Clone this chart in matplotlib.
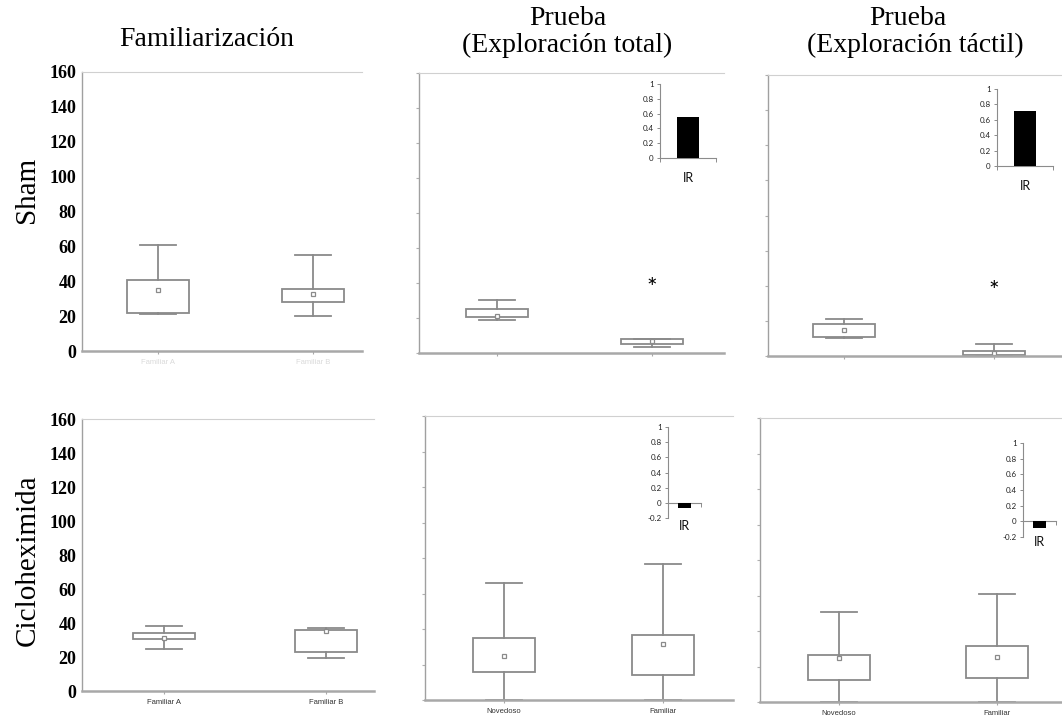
import matplotlib
matplotlib.use("Agg")
import matplotlib.pyplot as plt

W, H = 1062, 717
fig = plt.figure(figsize=(W / 100, H / 100), dpi=100)

# ---------------- data ----------------
yticks = [0, 20, 40, 60, 80, 100, 120, 140, 160]
cats_fam = ["Familiar A", "Familiar B"]
cats_test = ["Novedoso", "Familiar"]

# each panel: whisker low, q1, q3, whisker high, mean (for the two categories)
sham_fam_lo = [21.2, 20.0]
sham_fam_q1 = [22.0, 28.0]
sham_fam_q3 = [40.7, 35.6]
sham_fam_hi = [60.8, 55.0]
sham_fam_mean = [35.0, 32.7]

sham_tot_lo = [18.7, 3.4]
sham_tot_q1 = [20.6, 5.3]
sham_tot_q3 = [25.1, 8.0]
sham_tot_hi = [30.1, 8.0]
sham_tot_mean = [21.0, 7.0]

sham_tac_lo = [10.5, 0.0]
sham_tac_q1 = [10.8, 0.4]
sham_tac_q3 = [18.0, 2.9]
sham_tac_hi = [20.9, 6.6]
sham_tac_mean = [15.0, 1.9]

cic_fam_lo = [24.6, 19.2]
cic_fam_q1 = [30.8, 22.7]
cic_fam_q3 = [34.3, 36.1]
cic_fam_hi = [38.2, 37.2]
cic_fam_mean = [31.4, 35.3]

cic_tot_lo = [0.0, 0.0]
cic_tot_q1 = [16.0, 14.2]
cic_tot_q3 = [34.9, 36.8]
cic_tot_hi = [65.7, 76.4]
cic_tot_mean = [24.9, 31.7]

cic_tac_lo = [0.0, 0.0]
cic_tac_q1 = [12.6, 13.7]
cic_tac_q3 = [26.6, 31.5]
cic_tac_hi = [50.7, 61.0]
cic_tac_mean = [25.0, 25.3]

ir_label = "IR"
ir_sham_tot = 0.56
ir_sham_tac = 0.72
ir_cic_tot = -0.07
ir_cic_tac = -0.08

col_titles = ["Familiarización", "Prueba", "(Exploración total)", "Prueba", "(Exploración táctil)"]
row_titles = ["Sham", "Cicloheximida"]

SERIF = "Liberation Serif"
SANS = "Liberation Sans"
INSET_FONT = "Lato"
BOXC = "#8a8a8a"


def px_axes(l, t, r, b):
    return fig.add_axes([l / W, 1 - b / H, (r - l) / W, (b - t) / H])


def panel(rect, c1, c2, lo, q1, q3, hi, mean, labels, left_labels, label_color, star=None):
    l, t, r, b = rect
    ax = px_axes(l, t, r, b)
    d = c2 - c1
    ax.set_xlim(1 - (c1 - l) / d, 1 + (r - c1) / d)
    ax.set_ylim(0, 160)
    bw = 62 / d
    stats = []
    for i in range(2):
        stats.append(dict(whislo=lo[i], q1=q1[i], med=q1[i], q3=q3[i],
                          whishi=hi[i], mean=mean[i], fliers=[]))
    ax.bxp(stats, positions=[1, 2], widths=bw, showmeans=True, patch_artist=True,
           capwidths=bw * 0.58,
           boxprops=dict(facecolor="white", edgecolor=BOXC, linewidth=1.3),
           whiskerprops=dict(color=BOXC, linewidth=1.3),
           capprops=dict(color=BOXC, linewidth=1.3),
           medianprops=dict(linewidth=0),
           meanprops=dict(marker="s", markersize=3.5, markerfacecolor="white",
                          markeredgecolor=BOXC, markeredgewidth=0.9))
    ax.spines["right"].set_visible(False)
    ax.spines["top"].set_color("#d0d0d0")
    ax.spines["top"].set_linewidth(0.8)
    ax.spines["left"].set_color("#a0a0a0")
    ax.spines["left"].set_linewidth(1.0)
    ax.spines["bottom"].set_color("#a8a8a8")
    ax.spines["bottom"].set_linewidth(1.8)
    ax.set_yticks(yticks)
    if left_labels:
        ax.set_yticklabels([str(v) for v in yticks], fontfamily=SERIF,
                           fontweight="bold", fontsize=13)
        ax.tick_params(axis="y", length=0, pad=4)
    else:
        ax.set_yticklabels([])
        ax.tick_params(axis="y", length=2.5, color="#b0b0b0", width=0.8)
    ax.set_xticks([1, 2])
    ax.set_xticklabels(labels, fontfamily=SANS, fontsize=5.5, color=label_color)
    ax.tick_params(axis="x", length=2, color="#a8a8a8", pad=4)
    if star is not None:
        ax.text(2, star, "*", ha="center", va="center", fontsize=18,
                fontfamily=INSET_FONT, color="black")
    return ax


def inset(l, r, ytop, ybot, ymin, value, bar_w, ir_off):
    ax = px_axes(l, ytop, r, ybot)
    ax.set_ylim(ymin, 1)
    ax.set_xlim(0, 1)
    ax.bar([0.5], [value], width=bar_w, color="black", zorder=3)
    for s in ["right", "top"]:
        ax.spines[s].set_visible(False)
    for s in ["left", "bottom"]:
        ax.spines[s].set_color("#8c8c8c")
        ax.spines[s].set_linewidth(0.8)
    ax.spines["bottom"].set_position(("data", 0))
    ticks = [0, 0.2, 0.4, 0.6, 0.8, 1] if ymin >= 0 else [-0.2, 0, 0.2, 0.4, 0.6, 0.8, 1]
    ax.set_yticks(ticks)
    ax.set_yticklabels([("%g" % v) for v in ticks], fontfamily=INSET_FONT, fontsize=5.8,
                       color="#222222")
    ax.tick_params(axis="y", length=2.5, width=0.7, color="#8c8c8c", pad=2)
    ax.set_xticks([0, 1])
    ax.set_xticklabels([])
    ax.tick_params(axis="x", length=3, width=0.7, color="#8c8c8c", direction="out")
    ax.patch.set_alpha(0)
    ax.annotate(ir_label, xy=(0.5, 0), xycoords=("axes fraction", "data"),
                xytext=(0, -ir_off), textcoords="offset points", ha="center",
                va="center", fontsize=9, fontfamily=INSET_FONT, color="#111111")
    return ax


# ---------------- top row ----------------
panel((82, 72, 362, 351), 158, 313, sham_fam_lo, sham_fam_q1, sham_fam_q3, sham_fam_hi,
      sham_fam_mean, cats_fam, True, "#dadada")
panel((419, 73, 724, 353), 497, 652, sham_tot_lo, sham_tot_q1, sham_tot_q3, sham_tot_hi,
      sham_tot_mean, ["", ""], False, "#ffffff", star=37)
panel((768, 75, 1062, 356), 844, 994, sham_tac_lo, sham_tac_q1, sham_tac_q3, sham_tac_hi,
      sham_tac_mean, ["", ""], False, "#ffffff", star=37)

# ---------------- bottom row ----------------
panel((82, 419, 374, 691), 164, 326, cic_fam_lo, cic_fam_q1, cic_fam_q3, cic_fam_hi,
      cic_fam_mean, cats_fam, True, "#333333")
panel((425, 416, 733, 700), 504, 663, cic_tot_lo, cic_tot_q1, cic_tot_q3, cic_tot_hi,
      cic_tot_mean, cats_test, False, "#333333")
panel((760, 418, 1062, 702), 839, 997, cic_tac_lo, cic_tac_q1, cic_tac_q3, cic_tac_hi,
      cic_tac_mean, cats_test, False, "#333333")

# ---------------- insets ----------------
inset(660, 716, 84, 158, 0, ir_sham_tot, 0.41, 14.5)
inset(997, 1053, 89, 166, 0, ir_sham_tac, 0.39, 14.5)
inset(668, 701, 427, 518, -0.2, ir_cic_tot, 0.39, 17)
inset(1023, 1056, 443, 537, -0.2, ir_cic_tac, 0.42, 15)

# ---------------- titles ----------------
def ftext(x, y, s, **kw):
    fig.text(x / W, 1 - y / H, s, **kw)

ftext(207, 46, col_titles[0], ha="center", va="baseline", fontsize=20, fontfamily=SERIF)
ftext(568, 25, col_titles[1], ha="center", va="baseline", fontsize=20, fontfamily=SERIF)
ftext(567, 52, col_titles[2], ha="center", va="baseline", fontsize=20, fontfamily=SERIF)
ftext(908, 25, col_titles[3], ha="center", va="baseline", fontsize=20, fontfamily=SERIF)
ftext(915, 52, col_titles[4], ha="center", va="baseline", fontsize=20, fontfamily=SERIF)

ftext(27, 190, row_titles[0], ha="center", va="center", rotation=90, fontsize=21,
      fontfamily=SERIF)
ftext(28, 560, row_titles[1], ha="center", va="center", rotation=90, fontsize=21,
      fontfamily=SERIF)

fig.savefig("out.png", dpi=100)
